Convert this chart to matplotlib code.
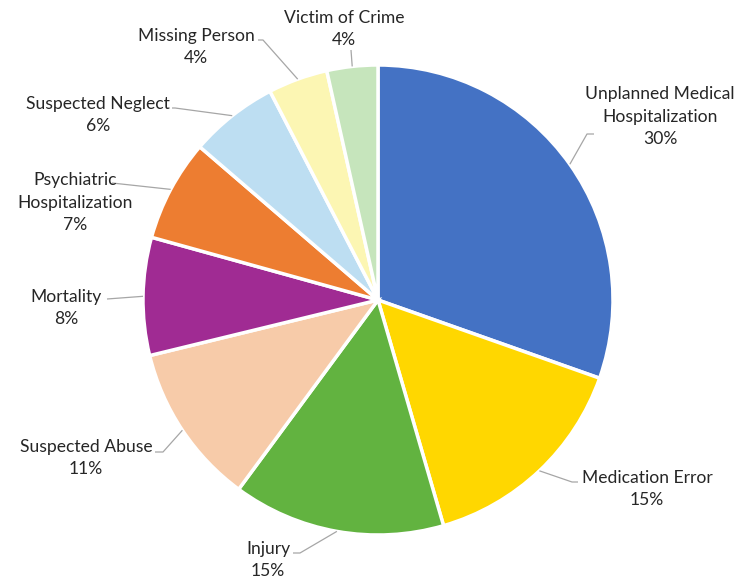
import numpy as np
import matplotlib.pyplot as plt

plt.rcParams['font.family'] = ['Lato', 'DejaVu Sans']

# data (slice sizes; labels show rounded values)
labels = ['Unplanned Medical\nHospitalization', 'Medication Error', 'Injury',
          'Suspected Abuse', 'Mortality', 'Psychiatric\nHospitalization',
          'Suspected Neglect', 'Missing Person', 'Victim of Crime']
shares = [30.4, 15.1, 14.6, 11.1, 8.1, 7.0, 6.1, 4.1, 3.5]
colors = ['#4472C4', '#FFD700', '#62B340', '#F7CBA9', '#A02B93',
          '#ED7D31', '#BDDEF2', '#FCF6B3', '#C6E5BC']

# label block centres and leader elbow points (pixels, y from top)
label_pos = [(660, 117), (647, 489), (268, 560), (86, 458), (66, 308),
             (75, 203), (98, 115), (196, 47), (344, 29)]
elbows = [[(587, 134), (594, 134)], [(572, 482), (578, 482)],
          [(300, 553), (293, 553)], [(163, 452), (155, 452)],
          [(107, 299)], [(112, 183)], [(175, 108), (172, 108)],
          [(263, 40), (258, 40)], [(351, 50)]]

W, H = 737, 582
cx, cy, r = 378, 300, 235

fig = plt.figure(figsize=(7.37, 5.82), dpi=100)
ax = fig.add_axes((0, 0, 1, 1))

wedges, _ = ax.pie(shares, colors=colors, startangle=90, counterclock=False,
                   center=(cx, H - cy), radius=r,
                   wedgeprops=dict(edgecolor='white', linewidth=2.5))
ax.set_xlim(0, W)
ax.set_ylim(0, H)
ax.set_aspect('equal')
ax.axis('off')

total = sum(shares)
cum = 0
for i, (lab, v) in enumerate(zip(labels, shares)):
    mid = cum + v / 2
    cum += v
    ang = np.deg2rad(90 - 360 * mid / total)
    ax_x = cx + r * np.cos(ang)
    ax_y = cy - r * np.sin(ang)
    pts = [(ax_x, ax_y)] + elbows[i]
    ax.plot([p[0] for p in pts], [H - p[1] for p in pts], color='#A6A6A6',
            lw=0.9, solid_capstyle='butt')
    tx, ty = label_pos[i]
    pct = int(v + 0.5)
    ax.text(tx, H - ty, f'{lab}\n{pct}%', ha='center', va='center',
            fontsize=12.6, color='#262626', linespacing=1.5)

fig.savefig('out.png', dpi=100)
